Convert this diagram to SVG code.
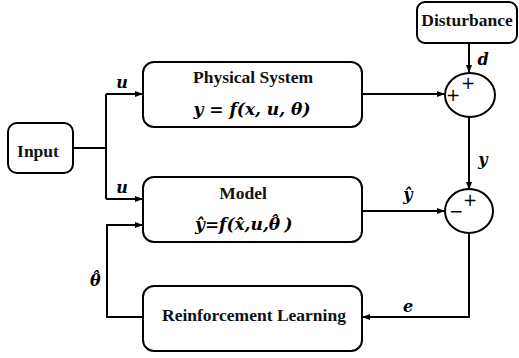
<svg xmlns="http://www.w3.org/2000/svg" width="519" height="358" viewBox="0 0 519 358">
<style>
.box{fill:#fff;stroke:#000;stroke-width:2}
.ln{fill:none;stroke:#000;stroke-width:2}
.t{font-family:'Liberation Serif','Times New Roman','DejaVu Serif',serif;font-weight:bold;font-size:17.5px;text-anchor:middle;fill:#111}
.m{font-family:'DejaVu Serif',serif;font-weight:bold;font-style:italic;font-size:17px;text-anchor:middle;fill:#000}
.l{font-family:'DejaVu Serif',serif;font-weight:bold;font-style:italic;font-size:16px;text-anchor:middle;fill:#000}
.s{font-family:'DejaVu Sans',sans-serif;font-size:17px;text-anchor:middle;fill:#000}
</style>
<defs>
<marker id="ah" markerWidth="8" markerHeight="6" refX="7" refY="3" orient="auto" markerUnits="userSpaceOnUse">
<path d="M0,0 L8,3 L0,6 Z" fill="#000"/>
</marker>
</defs>
<g id="connectors">
<path class="ln" d="M73,148 H106"/>
<path class="ln" d="M106,94 V199"/>
<path class="ln" d="M106,94 H142" marker-end="url(#ah)"/>
<path class="ln" d="M106,199 H142" marker-end="url(#ah)"/>
<path class="ln" d="M362,94 H444" marker-end="url(#ah)"/>
<path class="ln" d="M469,43 V72" marker-end="url(#ah)"/>
<path class="ln" d="M469,117 V189" marker-end="url(#ah)"/>
<path class="ln" d="M362,211 H444" marker-end="url(#ah)"/>
<path class="ln" d="M469,233 V317 H363" marker-end="url(#ah)"/>
<path class="ln" d="M143,317 H107 V225 H142" marker-end="url(#ah)"/>
<text class="l" x="122" y="88">u</text>
<text class="l" x="122" y="193">u</text>
<text class="l" x="483" y="65">d</text>
<text class="l" x="483" y="165">y</text>
<text class="l" x="408" y="200">ŷ</text>
<text class="l" x="408" y="312">e</text>
<text class="l" x="90" y="286" style="text-anchor:start">θ<tspan dx="-9" dy="-3">ˆ</tspan></text>
</g>
<g id="input">
<rect class="box" x="8" y="123" width="65" height="50" rx="9"/>
<text class="t" x="38" y="157">Input</text>
</g>
<g id="physical">
<rect class="box" x="143" y="62" width="219" height="65" rx="11"/>
<text class="t" x="253" y="83">Physical System</text>
<text class="m" x="252" y="115">y = f(x, u, θ)</text>
</g>
<g id="model">
<rect class="box" x="143" y="177" width="219" height="65" rx="11"/>
<text class="t" x="243" y="199">Model</text>
<text class="m" x="195" y="230" style="text-anchor:start">ŷ=f(x̂,u,θ<tspan dx="-10" dy="-3">ˆ</tspan><tspan dy="3"> )</tspan></text>
</g>
<g id="rl">
<rect class="box" x="143" y="286" width="219" height="65" rx="11"/>
<text class="t" x="254" y="321">Reinforcement Learning</text>
</g>
<g id="disturbance">
<rect class="box" x="417" y="2" width="100" height="41" rx="8"/>
<text class="t" x="467" y="26">Disturbance</text>
</g>
<g id="sum1">
<ellipse class="box" cx="470" cy="95" rx="25" ry="22"/>
<text class="s" x="453" y="101">+</text>
<text class="s" x="468" y="89">+</text>
</g>
<g id="sum2">
<ellipse class="box" cx="469" cy="211" rx="24" ry="22"/>
<text class="s" x="456" y="217">−</text>
<text class="s" x="470" y="206">+</text>
</g>
</svg>
